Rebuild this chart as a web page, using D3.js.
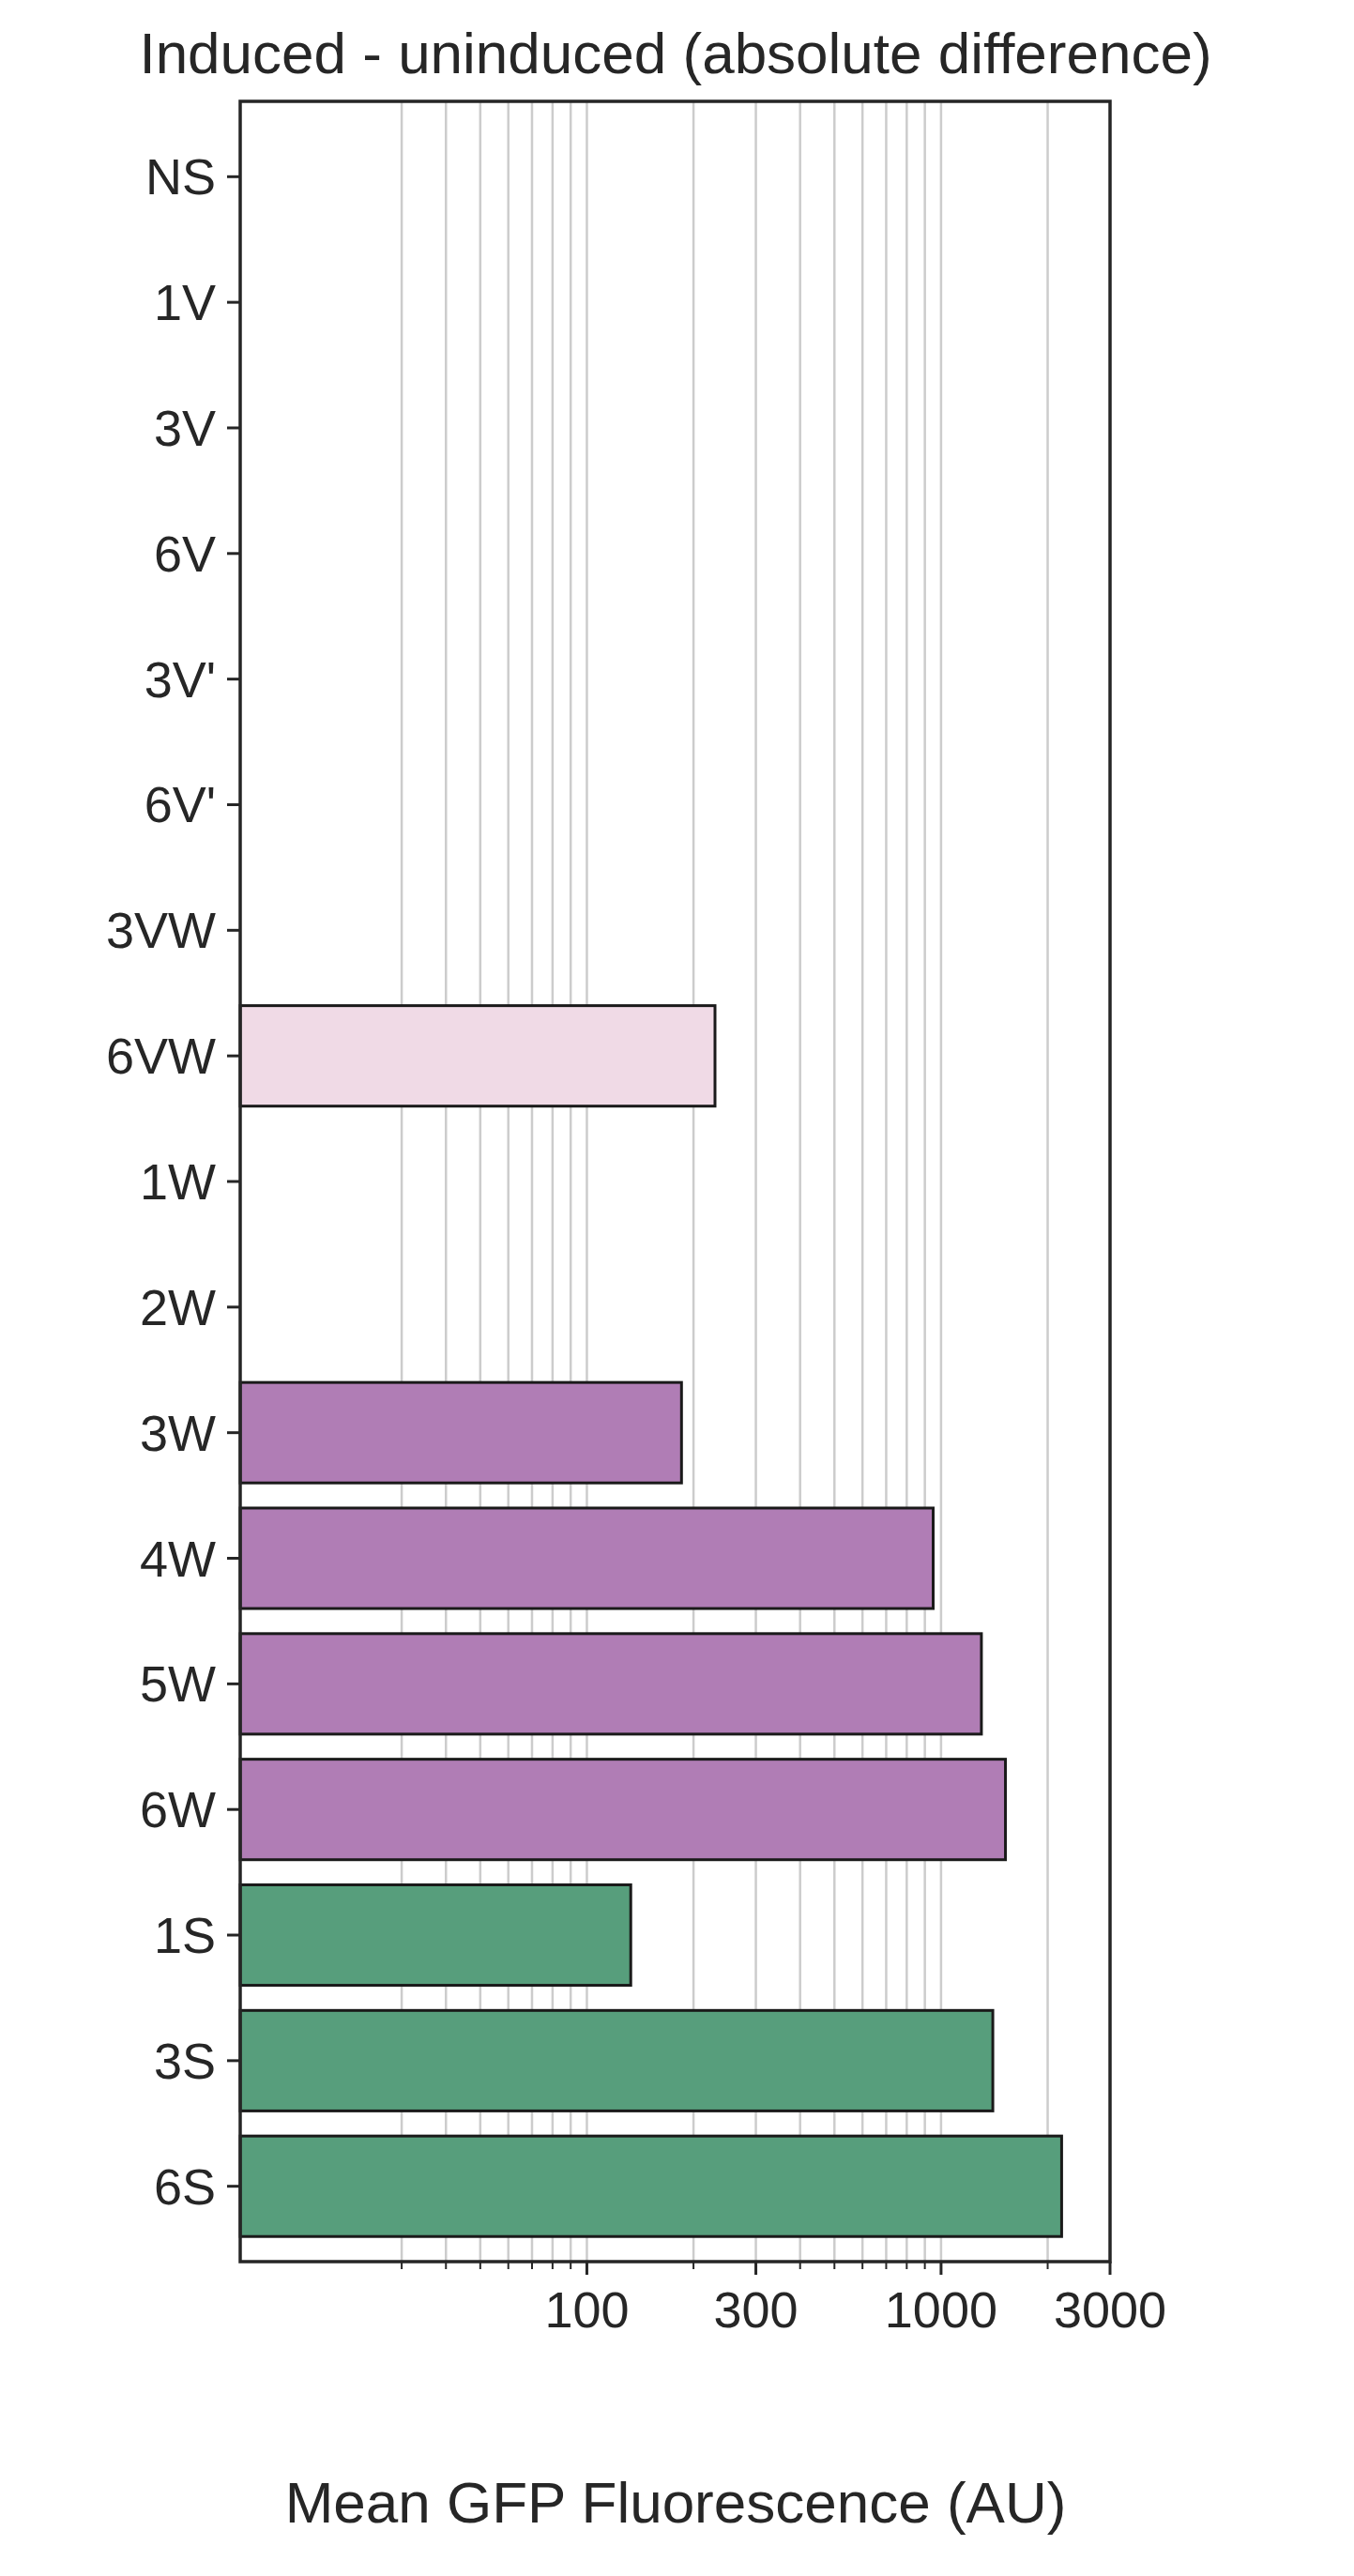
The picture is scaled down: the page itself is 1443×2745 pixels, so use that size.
<!DOCTYPE html><html><head><script src="https://cdn.jsdelivr.net/npm/d3@7"></script>
<style>body{margin:0;background:#fff}text{font-family:Arial,"Liberation Sans",sans-serif;fill:#262626}</style></head><body>
<script>
const categories=["NS","1V","3V","6V","3V'","6V'","3VW","6VW","1W","2W","3W","4W","5W","6W","1S","3S","6S"];
const values=[null,null,null,null,null,null,null,230,null,null,185,950,1300,1520,133,1400,2190];
const groups=["","","","","","","","VW","","","W","W","W","W","S","S","S"];
const tickValues=[100,300,1000,3000];
const colors={VW:"#f0dae6",W:"#b07db5",S:"#579e7c"};
const W=1443,H=2745,L=256,R=1183,T=108,B=2410;
const svg=d3.select("body").append("svg").attr("width",W).attr("height",H);
const x=d3.scaleLog().domain([10.5,3000]).range([L,R]);
const y=d3.scaleBand().domain(categories).range([T,B]).paddingInner(0.2).paddingOuter(0.2);
const grid=[];[30,40,50,60,70,80,90,100,200,300,400,500,600,700,800,900,1000,2000].forEach(v=>grid.push(v));
svg.selectAll(".g").data(grid).enter().append("line").attr("x1",d=>x(d)).attr("x2",d=>x(d)).attr("y1",T).attr("y2",B).attr("stroke","#cccccc").attr("stroke-width",2.5);
const data=categories.map((c,i)=>({c,v:values[i],g:groups[i]})).filter(d=>d.v);
svg.selectAll(".b").data(data).enter().append("rect").attr("x",L).attr("y",d=>y(d.c)).attr("height",y.bandwidth()).attr("width",d=>x(d.v)-L).attr("fill",d=>colors[d.g]).attr("stroke","#1a1a1a").attr("stroke-width",3);
// y axis
categories.forEach(c=>{const yy=y(c)+y.bandwidth()/2;
svg.append("line").attr("x1",L-14).attr("x2",L).attr("y1",yy).attr("y2",yy).attr("stroke","#262626").attr("stroke-width",3);
svg.append("text").attr("x",L-26).attr("y",yy).attr("text-anchor","end").attr("dominant-baseline","central").attr("font-size",54).text(c);});
// x ticks
grid.concat([3000]).forEach(v=>{const major=tickValues.includes(v);
svg.append("line").attr("x1",x(v)).attr("x2",x(v)).attr("y1",B).attr("y2",B+(major?14:8)).attr("stroke","#262626").attr("stroke-width",major?3:2);});
tickValues.forEach(v=>svg.append("text").attr("x",x(v)).attr("y",B+70).attr("text-anchor","middle").attr("font-size",54).text(v));
svg.append("rect").attr("x",L).attr("y",T).attr("width",R-L).attr("height",B-T).attr("fill","none").attr("stroke","#262626").attr("stroke-width",3.5);
svg.append("text").attr("x",720).attr("y",78).attr("text-anchor","middle").attr("font-size",62).text("Induced - uninduced (absolute difference)");
svg.append("text").attr("x",720).attr("y",2688).attr("text-anchor","middle").attr("font-size",62).text("Mean GFP Fluorescence (AU)");
</script></body></html>
